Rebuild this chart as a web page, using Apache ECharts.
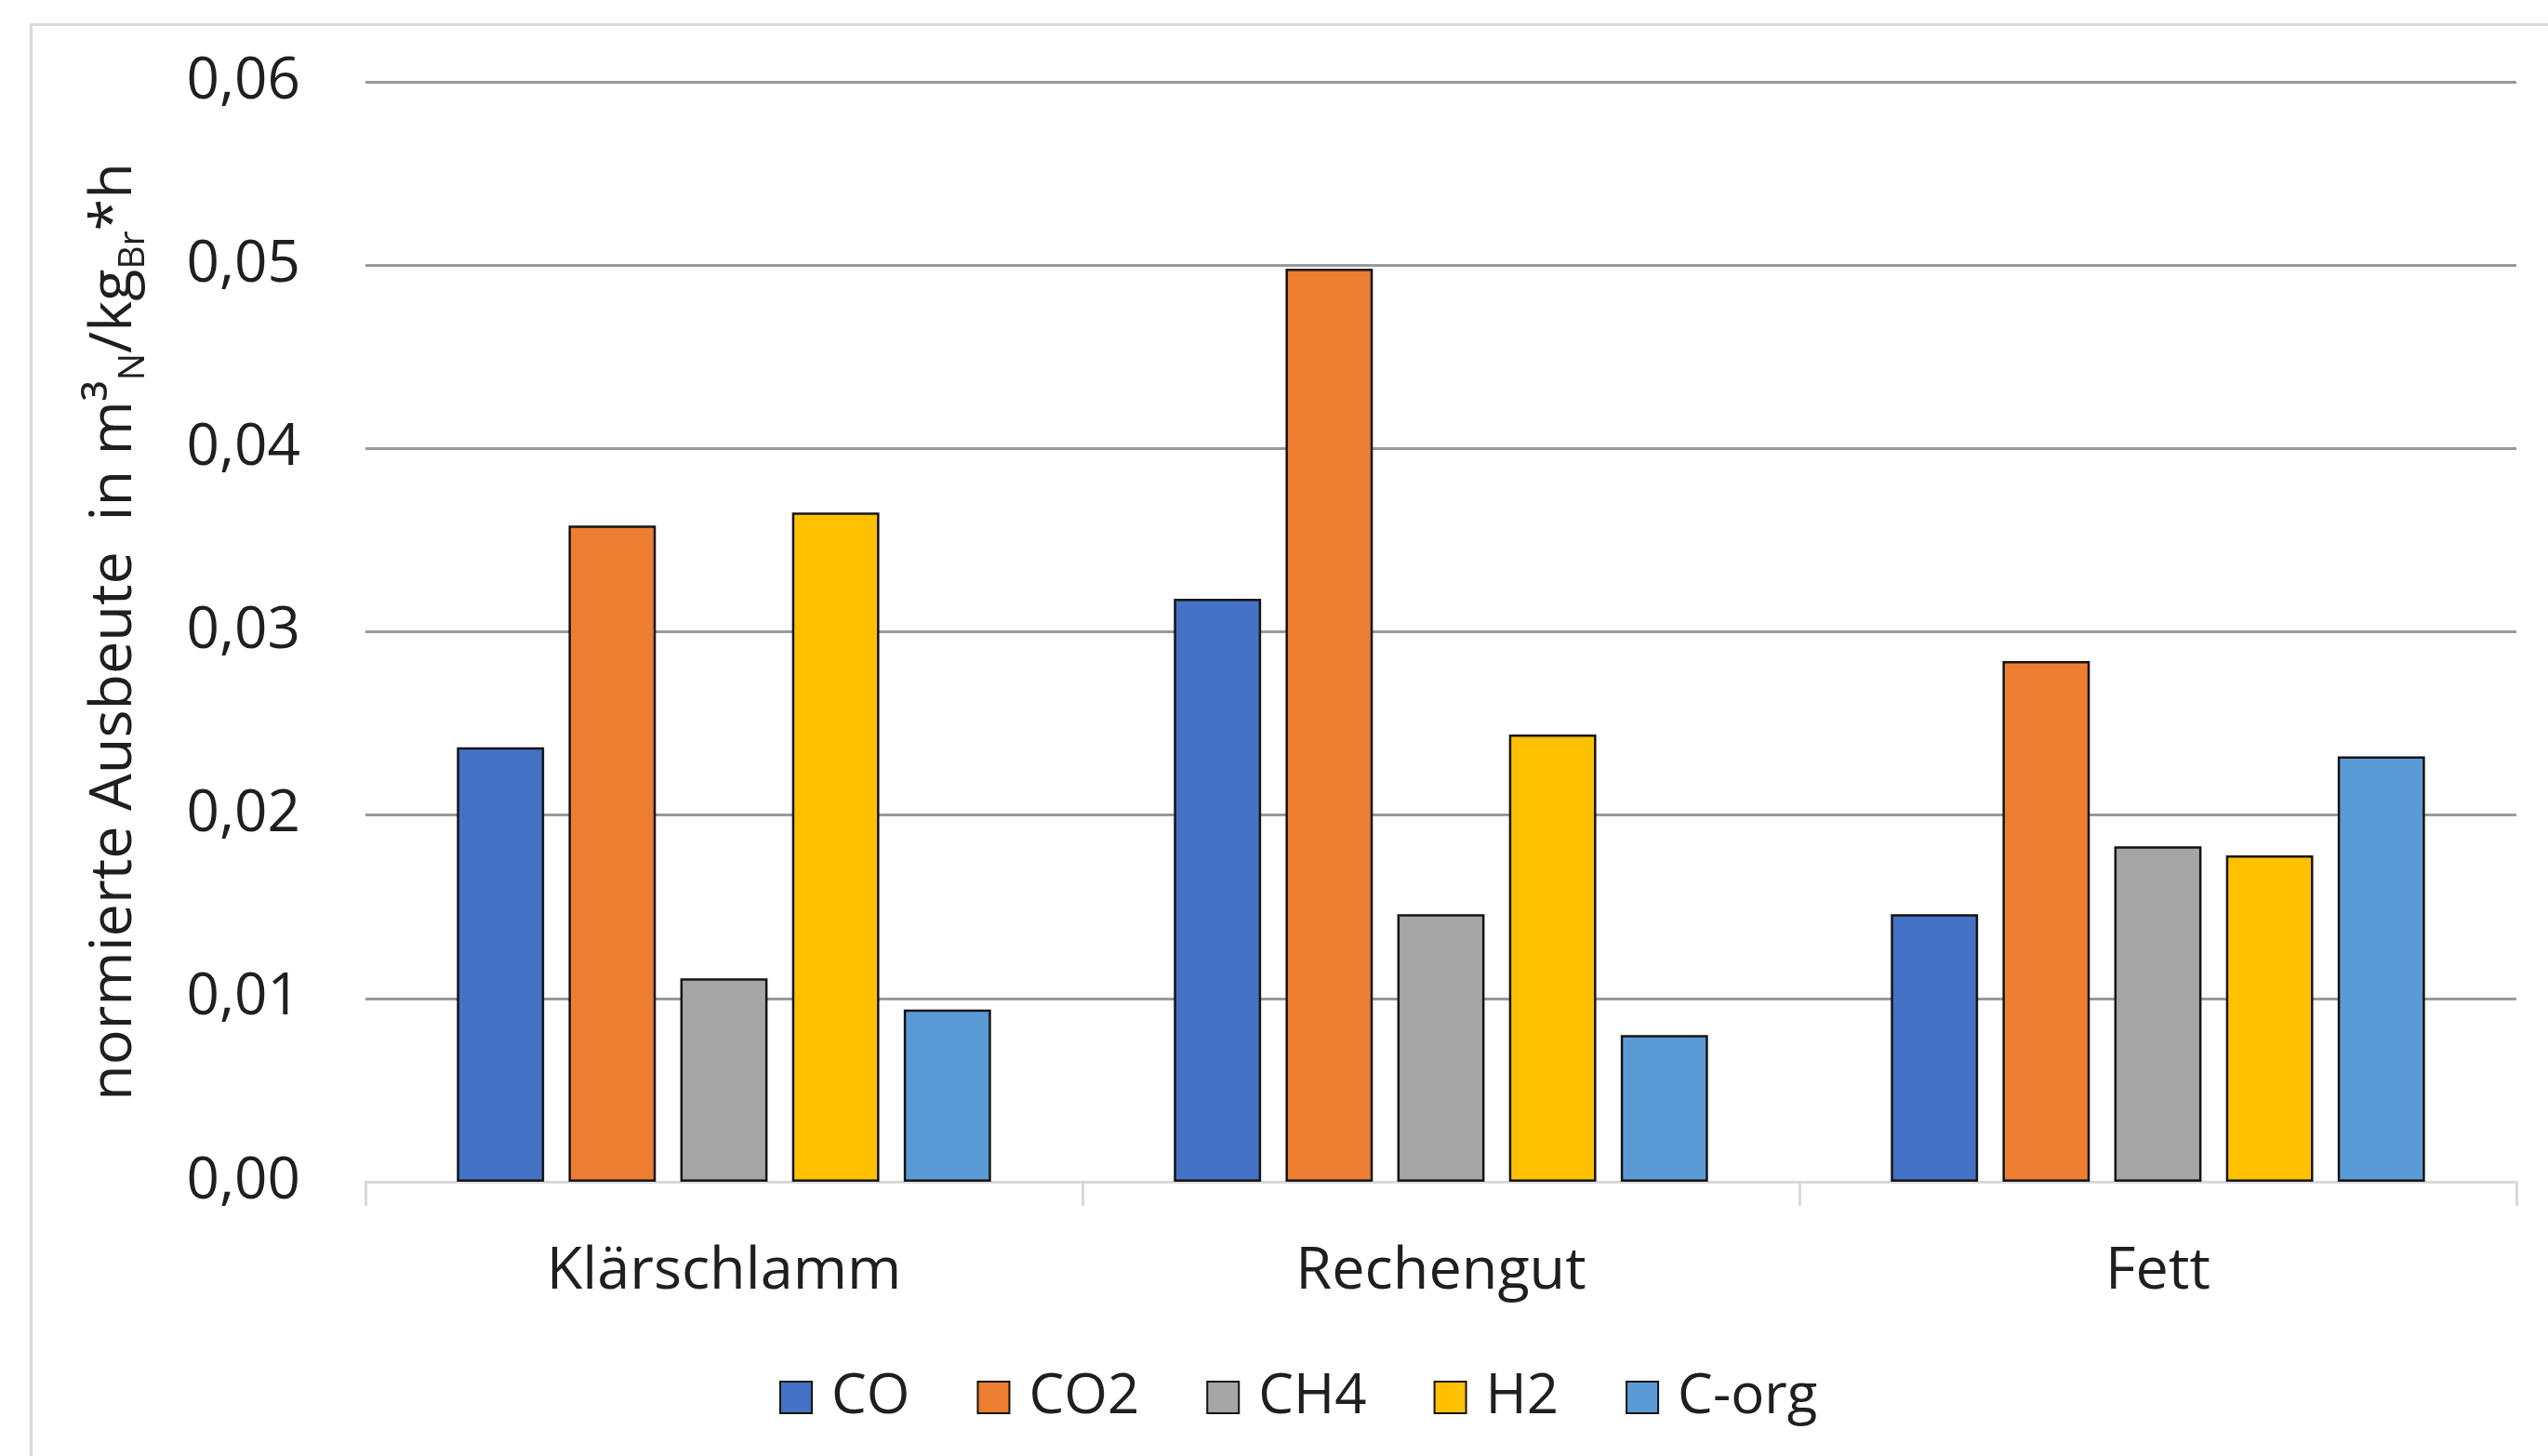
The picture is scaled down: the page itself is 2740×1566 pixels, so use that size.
<!DOCTYPE html>
<html>
<head>
<meta charset="utf-8">
<script src="https://cdn.jsdelivr.net/npm/echarts@6/dist/echarts.min.js"></script>
<style>
  html, body { margin: 0; padding: 0; background: #ffffff; }
  #chart { width: 2740px; height: 1566px; }
</style>
</head>
<body>
<div id="chart"></div>
<script>
// Substrates on the x axis
const categories = ['Klärschlamm', 'Rechengut', 'Fett'];

// Normalised yield per gas component (m³N / kgBr * h)
const seriesNames = ['CO', 'CO2', 'CH4', 'H2', 'C-org'];
const valuesCO   = [0.0237, 0.0318, 0.0146];
const valuesCO2  = [0.0358, 0.0498, 0.0284];
const valuesCH4  = [0.0111, 0.0146, 0.0183];
const valuesH2   = [0.0365, 0.0244, 0.0178];
const valuesCorg = [0.0094, 0.0080, 0.0232];

// Y axis range and tick step
const yMin = 0;
const yMax = 0.06;
const yStep = 0.01;

const seriesValues = [valuesCO, valuesCO2, valuesCH4, valuesH2, valuesCorg];
const colors = ['#4472C4', '#ED7D31', '#A5A5A5', '#FFC000', '#5B9BD5'];

const FONT = '"Open Sans", "Noto Sans", sans-serif';
const TEXT = '#1f1f1f';

const chart = echarts.init(document.getElementById('chart'), null, { renderer: 'canvas' });

chart.setOption({
  backgroundColor: '#ffffff',
  animation: false,
  color: colors,
  graphic: [{
    type: 'rect',
    left: 31,
    top: 24,
    shape: { width: 2800, height: 1600 },
    style: { fill: 'none', stroke: '#d9d9d9', lineWidth: 3 },
    silent: true,
    z: 0
  }],
  grid: { left: 393, right: 34, top: 88, bottom: 295, containLabel: false },
  legend: {
    left: 833,
    top: 1468,
    itemWidth: 34,
    itemHeight: 34,
    itemGap: 72,
    icon: 'rect',
    textStyle: { fontFamily: FONT, fontSize: 60, color: TEXT, padding: [0, 0, 0, 16] },
    data: seriesNames
  },
  xAxis: {
    type: 'category',
    data: categories,
    boundaryGap: true,
    axisLine: { show: true, lineStyle: { color: '#d9d9d9', width: 3 } },
    axisTick: { show: true, length: 26, lineStyle: { color: '#d9d9d9', width: 3 } },
    axisLabel: { fontFamily: FONT, fontSize: 63, color: TEXT, margin: 66 },
    splitLine: { show: false }
  },
  yAxis: {
    type: 'value',
    min: yMin,
    max: yMax,
    interval: yStep,
    axisLine: { show: false },
    axisTick: { show: false },
    axisLabel: {
      fontFamily: FONT, fontSize: 62, color: TEXT, margin: 70,
      formatter: v => v.toFixed(2).replace('.', ',')
    },
    splitLine: { show: true, lineStyle: { color: '#999999', width: 3 } },
    name: '{a|normierte Ausbeute  in m³}{s|N}{a|/kg}{s|Br}{a|*h}',
    nameLocation: 'middle',
    nameRotate: 90,
    nameGap: 230,
    nameTextStyle: {
      fontFamily: FONT,
      color: TEXT,
      rich: {
        a: { fontFamily: FONT, fontSize: 63, color: TEXT, lineHeight: 80 },
        s: { fontFamily: FONT, fontSize: 39, color: TEXT, lineHeight: 38, verticalAlign: 'bottom' }
      }
    }
  },
  series: seriesNames.map((name, i) => ({
    name: name,
    type: 'bar',
    data: seriesValues[i],
    barGap: '28%',
    barCategoryGap: '25.5%',
    itemStyle: { color: colors[i], borderColor: '#141414', borderWidth: 2.5 }
  }))
});
</script>
</body>
</html>
